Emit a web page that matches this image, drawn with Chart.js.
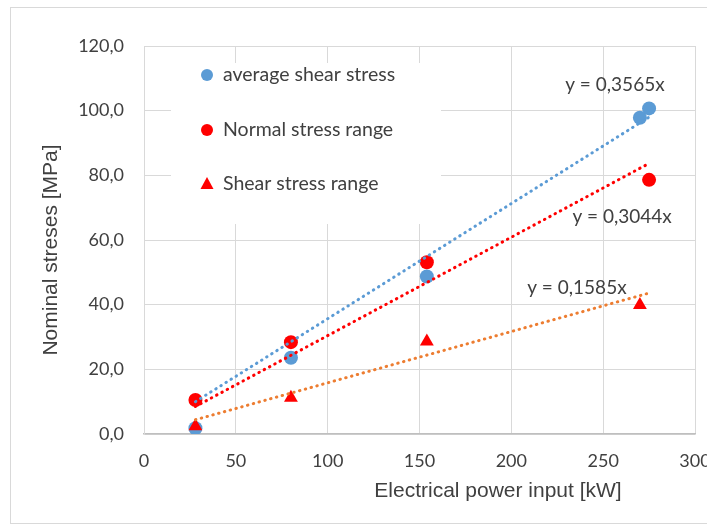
<!DOCTYPE html>
<html>
<head>
<meta charset="utf-8">
<script src="https://cdn.jsdelivr.net/npm/chart.js@4.4.1/dist/chart.umd.min.js"></script>
<style>
  html, body { margin: 0; padding: 0; background: #fff; }
  #wrap { width: 707px; height: 525px; }
</style>
</head>
<body>
<div id="wrap"><canvas id="stressChart" width="707" height="525"></canvas></div>
<script>
// measured points
const powerAvg = [28, 80, 154, 270, 275]
const avgShear = [1.8, 23.6, 48.7, 97.8, 100.7]
const powerNormal = [28, 80, 154, 275]
const normalRange = [10.5, 28.4, 53.1, 78.6]
const powerShear = [28, 80, 154, 270]
const shearRange = [2.4, 11.2, 28.6, 39.9]

// linear trendlines (through origin), ends
const trendX = [28, 275]
const trendAvg = [10.0, 98.0]
const trendNormal = [8.5, 83.7]
const trendShear = [4.4, 43.6]
const equations = ["y = 0,3565x", "y = 0,3044x", "y = 0,1585x"]
const equationX = [256.4, 260.3, 235.7]
const equationY = [108.0, 67.0, 45.1]

const seriesNames = ["average shear stress", "Normal stress range", "Shear stress range"]

const COLORS = {
  blue: "#5B9BD5",
  red: "#FF0000",
  orange: "#ED7D31",
  text: "#404040",
  grid: "#D9D9D9",
  axis: "#BFBFBF",
}

function pts(xs, ys) {
  return xs.map((x, i) => ({ x: x, y: ys[i] }))
}

function trend(ys, color) {
  return {
    type: "line",
    data: pts(trendX, ys),
    borderColor: color,
    borderWidth: 3,
    borderDash: [0.5, 5.5],
    borderCapStyle: "round",
    pointRadius: 0,
    fill: false,
    order: 0,
    isTrend: true,
  }
}

//frame, legend, axis titles and equation labels
const decorPlugin = {
  id: "decor",
  beforeDraw(chart) {
    const ctx = chart.ctx
    ctx.save()
    ctx.fillStyle = "#fff"
    ctx.fillRect(0, 0, chart.width, chart.height)
    ctx.strokeStyle = COLORS.grid
    ctx.lineWidth = 1
    ctx.strokeRect(10.5, 7.5, chart.width, chart.height - 9)
    ctx.restore()
  },
  afterDraw(chart) {
    const ctx = chart.ctx
    const xs = chart.scales.x
    const ys = chart.scales.y
    ctx.save()

    // legend box inside the plot
    ctx.fillStyle = "#fff"
    ctx.fillRect(171, 63, 270, 161)
    const rows = [75, 130, 184]
    const marks = chart.data.datasets.filter(d => !d.isTrend)
    marks.sort((a, b) => a.legendIndex - b.legendIndex)
    ctx.font = "19.5px Lato"
    ctx.textBaseline = "middle"
    ctx.textAlign = "left"
    marks.forEach((d, i) => {
      ctx.fillStyle = d.backgroundColor
      ctx.beginPath()
      if (d.pointStyle === "triangle") {
        ctx.moveTo(207, rows[i] - 7)
        ctx.lineTo(213.5, rows[i] + 5)
        ctx.lineTo(200.5, rows[i] + 5)
        ctx.closePath()
      } else {
        ctx.arc(207, rows[i], 6, 0, Math.PI * 2)
      }
      ctx.fill()
      ctx.fillStyle = COLORS.text
      ctx.fillText(d.label, 223, rows[i])
    })

    // trendline equations
    ctx.font = "19px Lato"
    ctx.textAlign = "center"
    equations.forEach((t, i) => {
      ctx.fillText(t, xs.getPixelForValue(equationX[i]), ys.getPixelForValue(equationY[i]))
    })

    // axis titles
    ctx.font = "21px 'Liberation Sans'"
    ctx.fillText("Electrical power input [kW]", 498, 491)
    ctx.translate(51, 250)
    ctx.rotate(-Math.PI / 2)
    ctx.fillText("Nominal streses [MPa]", 0, 0)
    ctx.restore()
  },
}

const data = {
  datasets: [
    trend(trendAvg, COLORS.blue),
    trend(trendNormal, COLORS.red),
    trend(trendShear, COLORS.orange),
    {
      label: seriesNames[2],
      data: pts(powerShear, shearRange),
      backgroundColor: COLORS.red,
      borderWidth: 0,
      pointStyle: "triangle",
      pointRadius: 8,
      order: 1,
      legendIndex: 2,
    },
    {
      label: seriesNames[1],
      data: pts(powerNormal, normalRange),
      backgroundColor: COLORS.red,
      borderWidth: 0,
      pointRadius: 7,
      order: 2,
      legendIndex: 1,
    },
    {
      label: seriesNames[0],
      data: pts(powerAvg, avgShear),
      backgroundColor: COLORS.blue,
      borderWidth: 0,
      pointRadius: 7,
      order: 3,
      legendIndex: 0,
    },
  ],
}

const config = {
  type: "scatter",
  data: data,
  options: {
    responsive: false,
    animation: false,
    layout: { padding: { top: 46, right: 12, left: 0, bottom: 0 } },
    plugins: {
      legend: { display: false },
      tooltip: { enabled: false },
    },
    scales: {
      x: {
        type: "linear",
        min: 0,
        max: 300,
        ticks: {
          stepSize: 50,
          padding: 16,
          color: COLORS.text,
          font: { family: "Lato", size: 18 },
        },
        grid: { color: COLORS.grid, drawTicks: false },
        border: { color: COLORS.axis, width: 1.5 },
        afterFit(scale) {
          scale.height = 91
          scale.paddingRight = 0
        },
      },
      y: {
        min: 0,
        max: 120,
        ticks: {
          stepSize: 20,
          padding: 20,
          color: COLORS.text,
          font: { family: "Lato", size: 18 },
          callback: v => v.toFixed(1).replace(".", ","),
        },
        grid: { color: COLORS.grid, drawTicks: false },
        border: { color: COLORS.grid },
        afterFit(scale) {
          scale.width = 144
        },
      },
    },
  },
  plugins: [decorPlugin],
}

new Chart(document.getElementById("stressChart"), config)
</script>
</body>
</html>
